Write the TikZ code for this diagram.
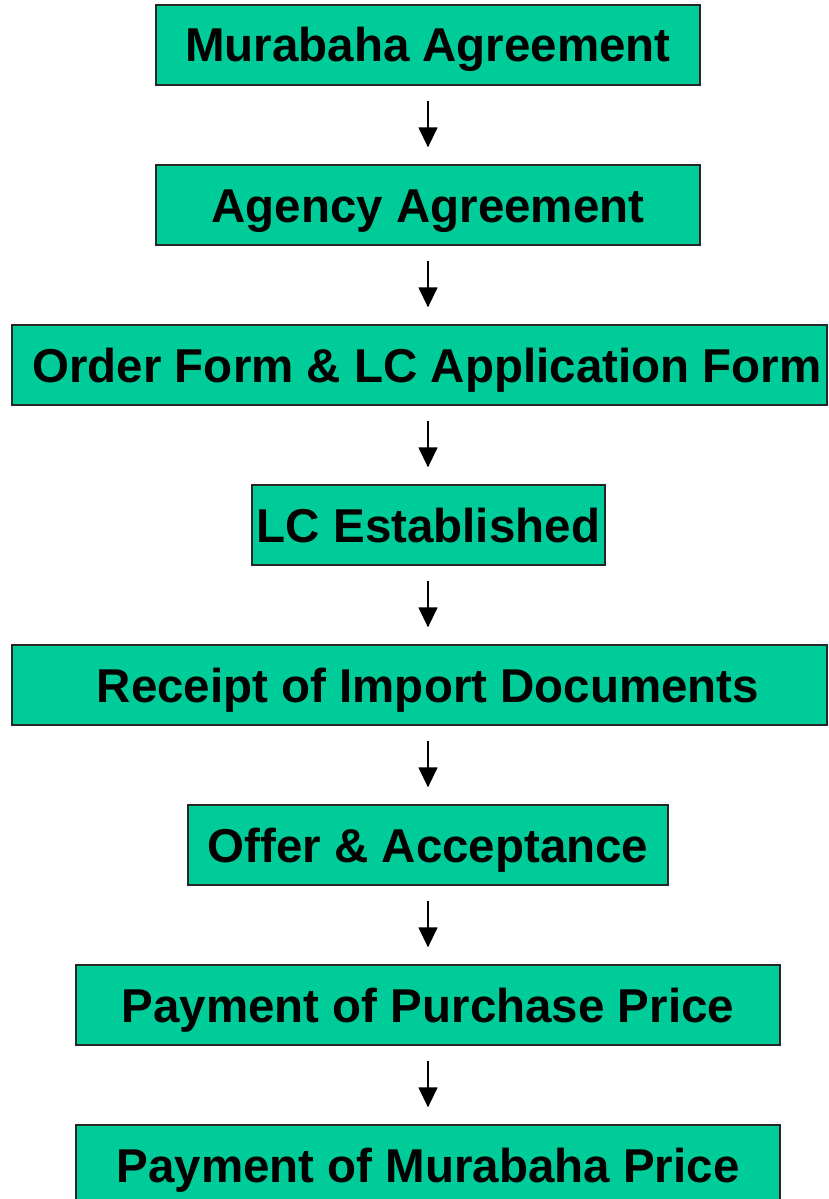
\documentclass[tikz,border=0pt]{standalone}
\usepackage{fontspec}
\setmainfont{Liberation Sans}
\usetikzlibrary{arrows.meta,calc}
\definecolor{boxgreen}{RGB}{0,204,153}
\begin{document}
\begin{tikzpicture}[x=1pt,y=-1pt,
  stepbox/.style={draw=black!85, line width=1.3pt, fill=boxgreen, rectangle,
    minimum height=80pt, inner sep=0pt, text height=34pt, text depth=0pt,
    font=\fontsize{47.5}{50}\selectfont\bfseries},
  flow/.style={line width=1.4pt, -{Triangle[width=19pt,length=20pt]}}]
\useasboundingbox (0,0) rectangle (829,1199);
\coordinate (mid) at (428,0);
\node[stepbox, minimum width=544pt] (n1) at (428,45) {Murabaha Agreement};
\node[stepbox, minimum width=544pt] (n2) at (428,205) {Agency Agreement};
\node[stepbox, minimum width=815pt] (n3) at (419.5,365) {\hspace*{15pt}Order Form \& LC Application Form};
\node[stepbox, minimum width=353pt] (n4) at (428.5,525) {LC Established};
\node[stepbox, minimum width=815pt] (n5) at (419.5,685) {\hspace*{17pt}Receipt of Import Documents};
\node[stepbox, minimum width=480pt] (n6) at (428,845) {Offer \& Acceptance};
\node[stepbox, minimum width=704pt] (n7) at (428,1005) {Payment of Purchase Price};
\node[stepbox, minimum width=704pt] (n8) at (428,1165) {Payment of Murabaha Price};
\foreach \a/\b in {n1/n2,n2/n3,n3/n4,n4/n5,n5/n6,n6/n7,n7/n8}{
  \draw[flow] ($(\a.south -| mid)+(0,15)$) -- ($(\b.north -| mid)+(0,-17)$);
}
\end{tikzpicture}
\end{document}
